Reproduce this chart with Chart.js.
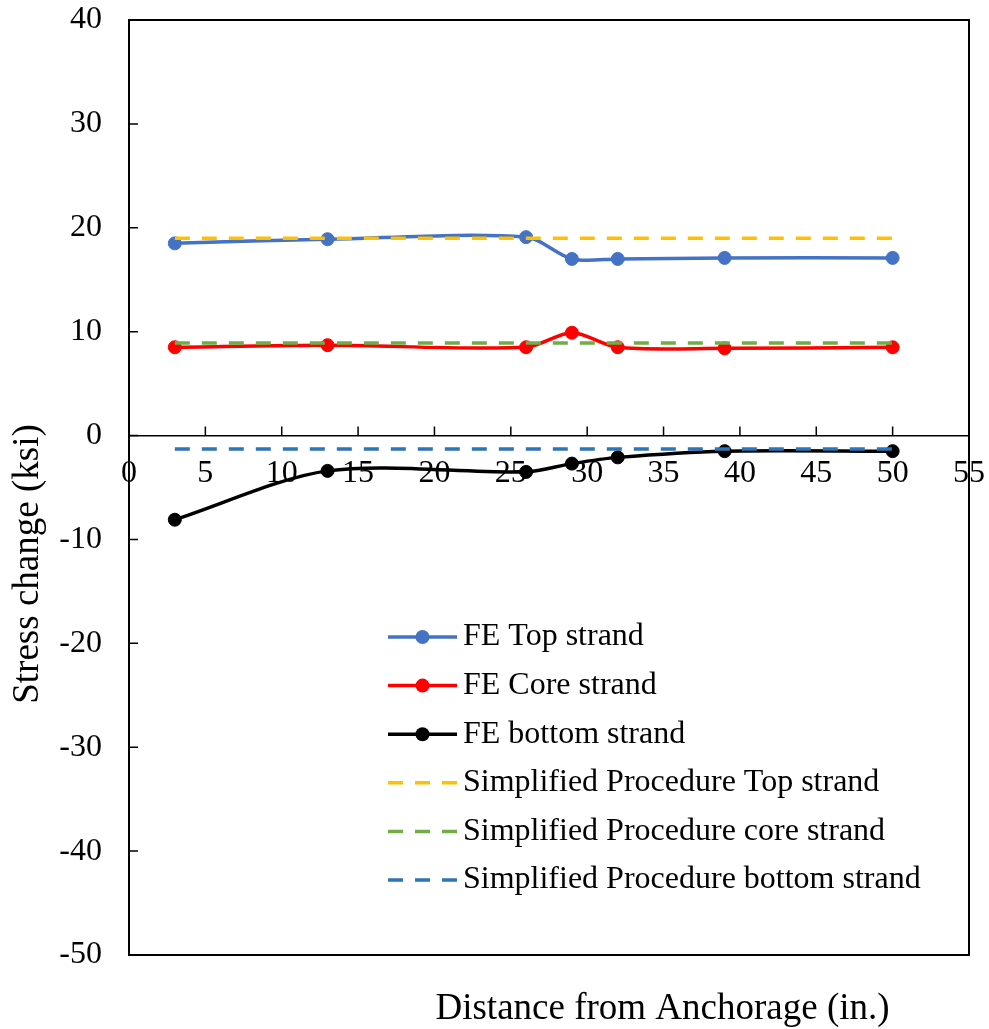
<!DOCTYPE html>
<html>
<head>
<meta charset="utf-8">
<title>Stress change along the strands</title>
<script src="https://cdn.jsdelivr.net/npm/chart.js@4/dist/chart.umd.min.js"></script>
<style>
  html, body { margin: 0; padding: 0; background: #ffffff; }
  #wrap { width: 989px; height: 1029px; position: relative; }
</style>
</head>
<body>
<div id="wrap"><canvas id="chart" width="989" height="1029"></canvas></div>
<script>
// Distance from anchorage (in.) of the finite-element sampling points
const distances = [3, 13, 26, 29, 32, 39, 50];

// Finite-element stress change (ksi)
const feTop    = [18.5, 18.9, 19.1, 17.0, 17.0, 17.1, 17.1];
const feCore   = [8.5, 8.7, 8.5, 9.9, 8.5, 8.4, 8.5];
const feBottom = [-8.1, -3.4, -3.5, -2.7, -2.1, -1.5, -1.5];

// Simplified procedure (constant along the span)
const simplifiedX      = [3, 50];
const simplifiedTop    = [19.0, 19.0];
const simplifiedCore   = [8.9, 8.9];
const simplifiedBottom = [-1.3, -1.3];

const seriesLabels = [
  'FE Top strand',
  'FE Core strand',
  'FE bottom strand',
  'Simplified Procedure Top strand',
  'Simplified Procedure core strand',
  'Simplified Procedure bottom strand'
];

// Axis ranges and tick spacing
const xTicks = { min: 0, max: 55, step: 5 };
const yTicks = { min: -50, max: 40, step: 10 };

const xTitle = 'Distance from Anchorage (in.)';
const yTitle = 'Stress change (ksi)';

const SERIF = '"Liberation Serif", "Times New Roman", serif';

const toPoints = (xs, ys) => xs.map((x, i) => ({ x: x, y: ys[i] }));

function feDataset(label, values, color) {
  return {
    label: label,
    data: toPoints(distances, values),
    borderColor: color,
    backgroundColor: color,
    borderWidth: 3.5,
    pointRadius: 6.5,
    pointBorderWidth: 1,
    pointBorderColor: color,
    pointBackgroundColor: color,
    tension: 0.3,
    order: 1
  };
}

function simplifiedDataset(label, values, color) {
  return {
    label: label,
    data: toPoints(simplifiedX, values),
    borderColor: color,
    backgroundColor: color,
    borderWidth: 3.5,
    borderDash: [15, 12],
    pointRadius: 0,
    tension: 0,
    order: 0
  };
}

// Frame, inside tick marks, axis titles and the legend box
const decorations = {
  id: 'decorations',
  afterDraw(chart) {
    const { ctx, chartArea: a, scales } = chart;
    const xs = scales.x, ys = scales.y;
    ctx.save();

    // plot-area frame
    ctx.strokeStyle = '#000000';
    ctx.lineWidth = 2;
    ctx.strokeRect(a.left, a.top, a.right - a.left, a.bottom - a.top);

    // tick marks pointing into the plot
    ctx.lineWidth = 1.5;
    const y0 = ys.getPixelForValue(0);
    ctx.beginPath();
    ys.ticks.forEach(t => {
      const py = ys.getPixelForValue(t.value);
      ctx.moveTo(a.left, py);
      ctx.lineTo(a.left + 9, py);
    });
    xs.ticks.forEach(t => {
      const px = xs.getPixelForValue(t.value);
      ctx.moveTo(px, y0);
      ctx.lineTo(px, y0 - 9);
    });
    ctx.stroke();

    // axis titles
    ctx.fillStyle = '#000000';
    ctx.font = '37px ' + SERIF;
    ctx.textAlign = 'center';
    ctx.textBaseline = 'alphabetic';
    ctx.fillText(xTitle, 662.5, 1019);

    ctx.save();
    ctx.translate(37.5, 564);
    ctx.rotate(-Math.PI / 2);
    ctx.fillText(yTitle, 0, 0);
    ctx.restore();

    // legend
    ctx.font = '32px ' + SERIF;
    ctx.textAlign = 'left';
    ctx.textBaseline = 'middle';
    chart.data.datasets.forEach((ds, i) => {
      const ry = 637 + i * 48.6;
      ctx.strokeStyle = ds.borderColor;
      ctx.lineWidth = ds.borderWidth;
      ctx.setLineDash(ds.borderDash || []);
      ctx.beginPath();
      ctx.moveTo(388, ry);
      ctx.lineTo(457, ry);
      ctx.stroke();
      ctx.setLineDash([]);
      if (ds.pointRadius > 0) {
        ctx.fillStyle = ds.pointBackgroundColor;
        ctx.beginPath();
        ctx.arc(422.5, ry, 7, 0, Math.PI * 2);
        ctx.fill();
      }
      ctx.fillStyle = '#000000';
      ctx.fillText(ds.label, 463, ry);
    });

    ctx.restore();
  }
};

new Chart(document.getElementById('chart'), {
  type: 'line',
  data: {
    datasets: [
      feDataset(seriesLabels[0], feTop, '#4472C4'),
      feDataset(seriesLabels[1], feCore, '#FF0000'),
      feDataset(seriesLabels[2], feBottom, '#000000'),
      simplifiedDataset(seriesLabels[3], simplifiedTop, '#FFC000'),
      simplifiedDataset(seriesLabels[4], simplifiedCore, '#70AD47'),
      simplifiedDataset(seriesLabels[5], simplifiedBottom, '#2E75B6')
    ]
  },
  options: {
    responsive: false,
    animation: false,
    devicePixelRatio: 1,
    layout: { padding: { top: 20, right: 20, bottom: 74, left: 0 } },
    plugins: {
      legend: { display: false },
      tooltip: { enabled: false },
      title: { display: false }
    },
    scales: {
      x: {
        type: 'linear',
        position: { y: 0 },
        min: xTicks.min,
        max: xTicks.max,
        grid: { display: false, drawTicks: false },
        border: { display: true, color: '#000000', width: 1.5 },
        ticks: {
          stepSize: xTicks.step,
          autoSkip: false,
          maxRotation: 0,
          padding: 19,
          color: '#000000',
          font: { family: SERIF, size: 32 }
        },
        afterFit(scale) {
          scale.paddingLeft = 0;
          scale.paddingRight = 0;
        }
      },
      y: {
        type: 'linear',
        position: 'left',
        min: yTicks.min,
        max: yTicks.max,
        grid: { display: false, drawTicks: false },
        border: { display: true, color: '#000000', width: 2 },
        ticks: {
          stepSize: yTicks.step,
          padding: 27,
          color: '#000000',
          font: { family: SERIF, size: 32 }
        },
        afterFit(scale) {
          scale.width = 129;
          scale.paddingTop = 0;
          scale.paddingBottom = 0;
        }
      }
    }
  },
  plugins: [decorations]
});
</script>
</body>
</html>
